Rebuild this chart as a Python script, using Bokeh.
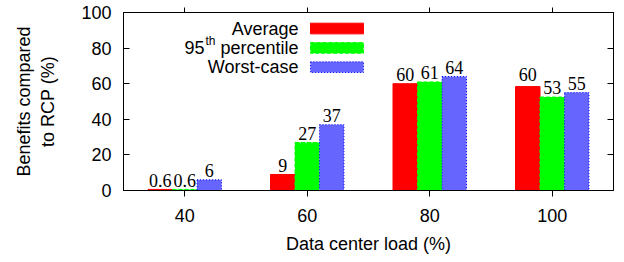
from bokeh.plotting import figure
from bokeh.models import Range1d, FixedTicker, LinearAxis, ColumnDataSource
from bokeh.core.properties import value
from bokeh.embed import file_html
from bokeh.resources import INLINE

# ---- data ----
loads = ["40", "60", "80", "100"]
series_names = ["Average", "95th percentile", "Worst-case"]
average = [0.6, 9, 60, 58.4]
p95 = [0.6, 27, 61, 52.5]
worst = [6, 37, 64, 55]
average_labels = ["0.6", "9", "60", "60"]
p95_labels = ["0.6", "27", "61", "53"]
worst_labels = ["6", "37", "64", "55"]
y_ticks = [0, 20, 40, 60, 80, 100]

SANS = "Liberation Sans"
SERIF = "Liberation Serif"
FS = "18px"

idx = list(range(len(loads)))

p = figure(frame_width=490, frame_height=178, output_backend="svg", toolbar_location=None,
           x_range=Range1d(-0.5, len(loads) - 0.5), y_range=Range1d(0, 100),
           min_border_left=123, min_border_right=11, min_border_top=12, min_border_bottom=72,
           x_axis_label="Data center load (%)",
           y_axis_label="Benefits compared\nto RCP (%)")
p.grid.visible = False
p.outline_line_color = "black"
p.outline_line_alpha = 1.0
p.outline_line_width = 1
p.background_fill_color = "white"
p.border_fill_color = "white"

# bottom axis
xa = p.xaxis[0]
xa.ticker = FixedTicker(ticks=idx)
xa.major_label_overrides = {i: s for i, s in zip(idx, loads)}
xa.major_tick_in = 0
xa.major_tick_out = 6
xa.minor_tick_line_color = None
xa.major_label_standoff = 12
xa.axis_label_standoff = 9
xa.major_label_text_font = SANS
xa.major_label_text_font_size = FS
xa.major_label_text_color = "black"
xa.axis_label_text_font = SANS
xa.axis_label_text_font_size = FS
xa.axis_label_text_font_style = "normal"
xa.axis_label_text_color = "black"
xa.axis_line_color = "black"
xa.major_tick_line_color = "black"

# left axis
ya = p.yaxis[0]
ya.ticker = FixedTicker(ticks=y_ticks)
ya.major_tick_in = 6
ya.major_tick_out = 0
ya.minor_tick_line_color = None
ya.major_label_standoff = 12
ya.axis_label_standoff = 20
ya.major_label_text_font = SANS
ya.major_label_text_font_size = FS
ya.major_label_text_color = "black"
ya.axis_label_text_font = SANS
ya.axis_label_text_font_size = FS
ya.axis_label_text_font_style = "normal"
ya.axis_label_text_color = "black"
ya.axis_line_color = "black"
ya.major_tick_line_color = "black"

# mirrored right axis (ticks in, no labels)
ra = LinearAxis(ticker=FixedTicker(ticks=y_ticks), major_tick_in=6, major_tick_out=0,
                minor_tick_line_color=None, major_label_text_font_size="0px",
                major_label_standoff=0, axis_line_color="black", major_tick_line_color="black")
ra.major_label_overrides = {t: "" for t in y_ticks}
p.add_layout(ra, "right")

# mirrored top axis (ticks out, no labels)
ta = LinearAxis(ticker=FixedTicker(ticks=idx), major_tick_in=0, major_tick_out=5,
                minor_tick_line_color=None, major_label_text_font_size="0px",
                major_label_standoff=0, axis_line_color="black", major_tick_line_color="black")
ta.major_label_overrides = {i: "" for i in idx}
p.add_layout(ta, "above")

# ---- bars ----
bar_w = 0.2
offsets = [-0.2, 0.0, 0.2]
fills = ["#ff0000", "#00ff00", "#6666ff"]
lines = ["#ff0000", "#00ff00", "#0000ff"]
dashes = ["solid", "4 2", "1 2"]
vals = [average, p95, worst]
labs = [average_labels, p95_labels, worst_labels]

for off, fc, lc, dsh, v, lb in zip(offsets, fills, lines, dashes, vals, labs):
    xs = [i + off for i in idx]
    src = ColumnDataSource(dict(x=xs, top=v, ly=[float(s) for s in lb], lab=lb))
    p.vbar(x="x", top="top", bottom=0, width=bar_w, source=src,
           fill_color=fc, line_color=lc, line_dash=dsh, line_width=1)
    p.text(x="x", y="ly", text="lab", source=src, text_align="center",
           text_baseline="alphabetic", y_offset=-9,
           text_font=value(SERIF), text_font_size=value("18px"), text_color="black")

# ---- legend (text right, swatch left of it) ----
leg_text_x = 0.9286
leg_sw_left, leg_sw_right = 1.0265, 1.459
leg_y = [91.0, 80.1, 69.3]
leg_half = 3.0
for (fc, lc, dsh, yy) in zip(fills, lines, dashes, leg_y):
    p.quad(left=[leg_sw_left], right=[leg_sw_right], top=[yy + leg_half], bottom=[yy - leg_half],
           fill_color=fc, line_color=lc, line_dash=dsh, line_width=1)

common = dict(text_font=value(SANS), text_color="black", text_baseline="middle")
p.text(x=[leg_text_x], y=[leg_y[0]], text=[series_names[0]], text_align="right",
       text_font_size=value(FS), **common)
p.text(x=[leg_text_x], y=[leg_y[1]], text=["percentile"], text_align="right",
       text_font_size=value(FS), **common)
p.text(x=[leg_text_x], y=[leg_y[1]], text=["th"], text_align="right", x_offset=-83, y_offset=-7,
       text_font_size=value("12px"), **common)
p.text(x=[leg_text_x], y=[leg_y[1]], text=["95"], text_align="right", x_offset=-94,
       text_font_size=value(FS), **common)
p.text(x=[leg_text_x], y=[leg_y[2]], text=[series_names[2]], text_align="right",
       text_font_size=value(FS), **common)

open("out.html", "w").write(file_html(p, INLINE))
